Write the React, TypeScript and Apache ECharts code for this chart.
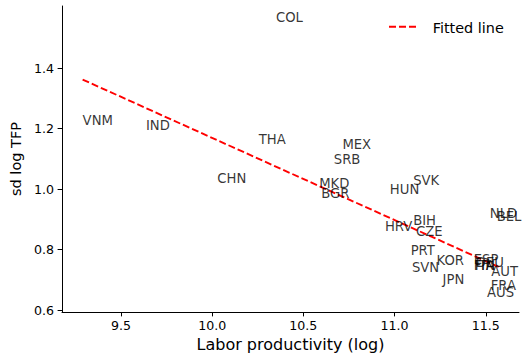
import React, { useEffect, useRef } from "react";
import * as echarts from "echarts";

const countries = ["COL","VNM","IND","THA","CHN","MEX","SRB","MKD","BGR","SVK","HUN","BIH","HRV","CZE","PRT","SVN","KOR","JPN","NLD","BEL","ESP","FIN","ITA","DEU","AUT","FRA","AUS"];
const laborProd = [10.35,9.29,9.637,10.255,10.028,10.714,10.667,10.587,10.598,11.102,10.974,11.102,10.947,11.117,11.088,11.095,11.23,11.263,11.522,11.56,11.434,11.434,11.44,11.445,11.53,11.527,11.507];
const sdLogTfp = [1.553,1.212,1.195,1.149,1.021,1.132,1.082,1.002,0.969,1.013,0.984,0.881,0.861,0.845,0.782,0.725,0.749,0.685,0.905,0.894,0.752,0.732,0.731,0.742,0.712,0.666,0.642];

const fitX = [9.29, 11.57];
const fitY = [1.362, 0.743];

const xTicks = [9.5, 10.0, 10.5, 11.0, 11.5];
const yTicks = [0.6, 0.8, 1.0, 1.2, 1.4];

const legendLabel = "Fitted line";

const FONT = "DejaVu Sans";

export default function App() {
  const ref = useRef<HTMLDivElement>(null);
  useEffect(() => {
    if (!ref.current) return;
    const chart = echarts.init(ref.current, null, { renderer: "svg" });
    const labelData = countries.map((c, i) => ({ name: c, value: [laborProd[i], sdLogTfp[i]] }));
    const fitData = fitX.map((x, i) => [x, fitY[i]]);
    chart.setOption({
      animation: false,
      backgroundColor: "#fff",
      grid: { left: 62, right: 6, top: 6, bottom: 44, containLabel: false, outerBoundsMode: "none" },
      graphic: [
        {
          type: "line",
          shape: { x1: 389, y1: 26.7, x2: 418, y2: 26.7 },
          style: { stroke: "#ff0000", lineWidth: 1.9, lineDash: [7, 3] },
          silent: true,
        },
        {
          type: "text",
          x: 432.7,
          y: 28,
          style: {
            text: legendLabel,
            fontFamily: FONT,
            fontSize: 14.4,
            fill: "#000",
            align: "left",
            verticalAlign: "middle",
          },
          silent: true,
        },
      ],
      xAxis: {
        type: "value",
        min: 9.177,
        max: 11.682,
        name: "Labor productivity (log)",
        nameLocation: "middle",
        nameGap: 24,
        nameTextStyle: { fontFamily: FONT, fontSize: 16, color: "#000" },
        axisLine: { show: true, onZero: false, lineStyle: { color: "#000", width: 1 } },
        axisTick: { show: true, length: 4.4, customValues: xTicks, lineStyle: { color: "#000", width: 1 } },
        axisLabel: {
          customValues: xTicks,
          formatter: (v: number) => v.toFixed(1),
          fontFamily: FONT,
          fontSize: 12.6,
          color: "#000",
          margin: 7,
        },
        splitLine: { show: false },
      },
      yAxis: {
        type: "value",
        min: 0.594,
        max: 1.605,
        name: "sd log TFP",
        nameLocation: "middle",
        nameGap: 37,
        nameTextStyle: { fontFamily: FONT, fontSize: 14.5, color: "#000" },
        axisLine: { show: true, onZero: false, lineStyle: { color: "#000", width: 1 } },
        axisTick: { show: true, length: 4.4, customValues: yTicks, lineStyle: { color: "#000", width: 1 } },
        axisLabel: {
          customValues: yTicks,
          formatter: (v: number) => v.toFixed(1),
          fontFamily: FONT,
          fontSize: 12.6,
          color: "#000",
          margin: 8,
        },
        splitLine: { show: false },
      },
      series: [
        {
          name: "Fitted line",
          type: "line",
          data: fitData,
          symbol: "none",
          showSymbol: false,
          z: 2,
          lineStyle: { color: "#ff0000", width: 1.9, type: [7, 3] },
          itemStyle: { color: "#ff0000" },
        },
        {
          name: "countries",
          type: "scatter",
          data: labelData,
          symbolSize: 0,
          z: 3,
          itemStyle: { color: "#000" },
          label: {
            show: true,
            formatter: "{b}",
            position: [0, 0],
            align: "left",
            verticalAlign: "middle",
            offset: [0, -4.6],
            fontFamily: FONT,
            fontSize: 13.2,
            color: "#000",
          },
          emphasis: { disabled: true },
        },
      ],
    });
    return () => chart.dispose();
  }, []);
  return (
    <div
      ref={ref}
      style={{ position: "absolute", left: 0, top: 0, width: 525, height: 356 }}
    />
  );
}
